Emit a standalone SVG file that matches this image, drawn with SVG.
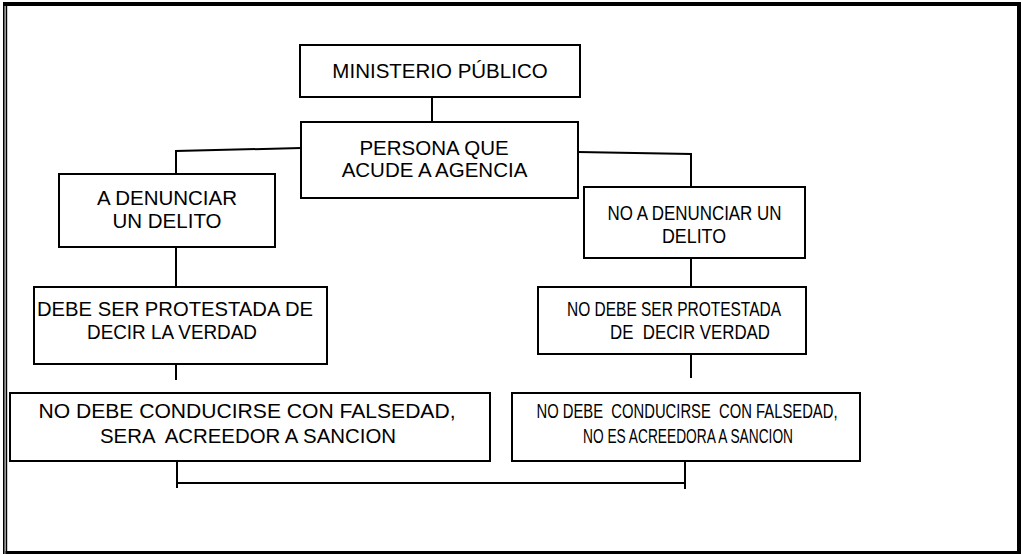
<svg xmlns="http://www.w3.org/2000/svg" width="1021" height="555" viewBox="0 0 1021 555">
<style>
.box{fill:#fff;stroke:#000;stroke-width:2}
.ln{fill:none;stroke:#000;stroke-width:2}
.t{font-family:"Liberation Sans",Arial,sans-serif;font-size:20.5px;fill:#000;text-anchor:middle}
.fr{fill:#000}
</style>
<rect width="1021" height="555" fill="#fff"/>
<g id="frame">
<rect class="fr" x="3" y="2" width="1018" height="4"/>
<rect class="fr" x="1017" y="2" width="4" height="552"/>
<rect class="fr" x="5.5" y="551" width="1015.5" height="3"/>
<rect class="fr" x="3" y="2" width="1.6" height="552"/>
<rect class="fr" x="5.6" y="6" width="1.6" height="548"/>
</g>
<g id="connectors">
<line class="ln" x1="432" y1="97" x2="432" y2="122"/>
<polyline class="ln" points="301,148 176,151 176,174"/>
<polyline class="ln" points="578,152 691,154 691,187"/>
<line class="ln" x1="176" y1="247" x2="176" y2="287"/>
<line class="ln" x1="691" y1="258" x2="691" y2="287"/>
<line class="ln" x1="176" y1="364" x2="176" y2="380"/>
<line class="ln" x1="691" y1="354" x2="691" y2="378"/>
<line class="ln" x1="177" y1="461" x2="177" y2="488"/>
<line class="ln" x1="685" y1="459" x2="685" y2="489"/>
<line class="ln" x1="177" y1="483" x2="685" y2="483"/>
</g>
<g id="n1">
<rect class="box" x="300" y="45" width="280" height="52"/>
<text class="t" x="440" y="78">MINISTERIO PÚBLICO</text>
</g>
<g id="n2">
<rect class="box" x="301" y="122" width="277" height="76"/>
<text class="t" x="434" y="155">PERSONA QUE</text>
<text class="t" x="434.5" y="177">ACUDE A AGENCIA</text>
</g>
<g id="n3">
<rect class="box" x="59" y="174" width="216" height="73"/>
<text class="t" x="167" y="205">A DENUNCIAR</text>
<text class="t" x="167" y="228">UN DELITO</text>
</g>
<g id="n4">
<rect class="box" x="584" y="187" width="221" height="71"/>
<text class="t" x="694.5" y="220" textLength="174" lengthAdjust="spacingAndGlyphs">NO A DENUNCIAR UN</text>
<text class="t" x="694" y="243" textLength="64" lengthAdjust="spacingAndGlyphs">DELITO</text>
</g>
<g id="n5">
<rect class="box" x="34" y="287" width="293" height="77"/>
<text class="t" x="175" y="316" textLength="276" lengthAdjust="spacingAndGlyphs">DEBE SER PROTESTADA DE</text>
<text class="t" x="172" y="339" textLength="170" lengthAdjust="spacingAndGlyphs">DECIR LA VERDAD</text>
</g>
<g id="n6">
<rect class="box" x="538" y="287" width="268" height="67"/>
<text class="t" x="674" y="316" textLength="214" lengthAdjust="spacingAndGlyphs">NO DEBE SER PROTESTADA</text>
<text class="t" x="690" y="339" xml:space="preserve" textLength="160" lengthAdjust="spacingAndGlyphs">DE  DECIR VERDAD</text>
</g>
<g id="n7">
<rect class="box" x="10" y="393" width="480" height="68"/>
<text class="t" x="247" y="418" textLength="417" lengthAdjust="spacingAndGlyphs">NO DEBE CONDUCIRSE CON FALSEDAD,</text>
<text class="t" x="248" y="443" xml:space="preserve" textLength="296" lengthAdjust="spacingAndGlyphs">SERA  ACREEDOR A SANCION</text>
</g>
<g id="n8">
<rect class="box" x="512" y="393" width="348" height="68"/>
<text class="t" x="687" y="418" xml:space="preserve" textLength="301" lengthAdjust="spacingAndGlyphs">NO DEBE  CONDUCIRSE  CON FALSEDAD,</text>
<text class="t" x="688" y="443" textLength="210" lengthAdjust="spacingAndGlyphs">NO ES ACREEDORA A SANCION</text>
</g>
</svg>
